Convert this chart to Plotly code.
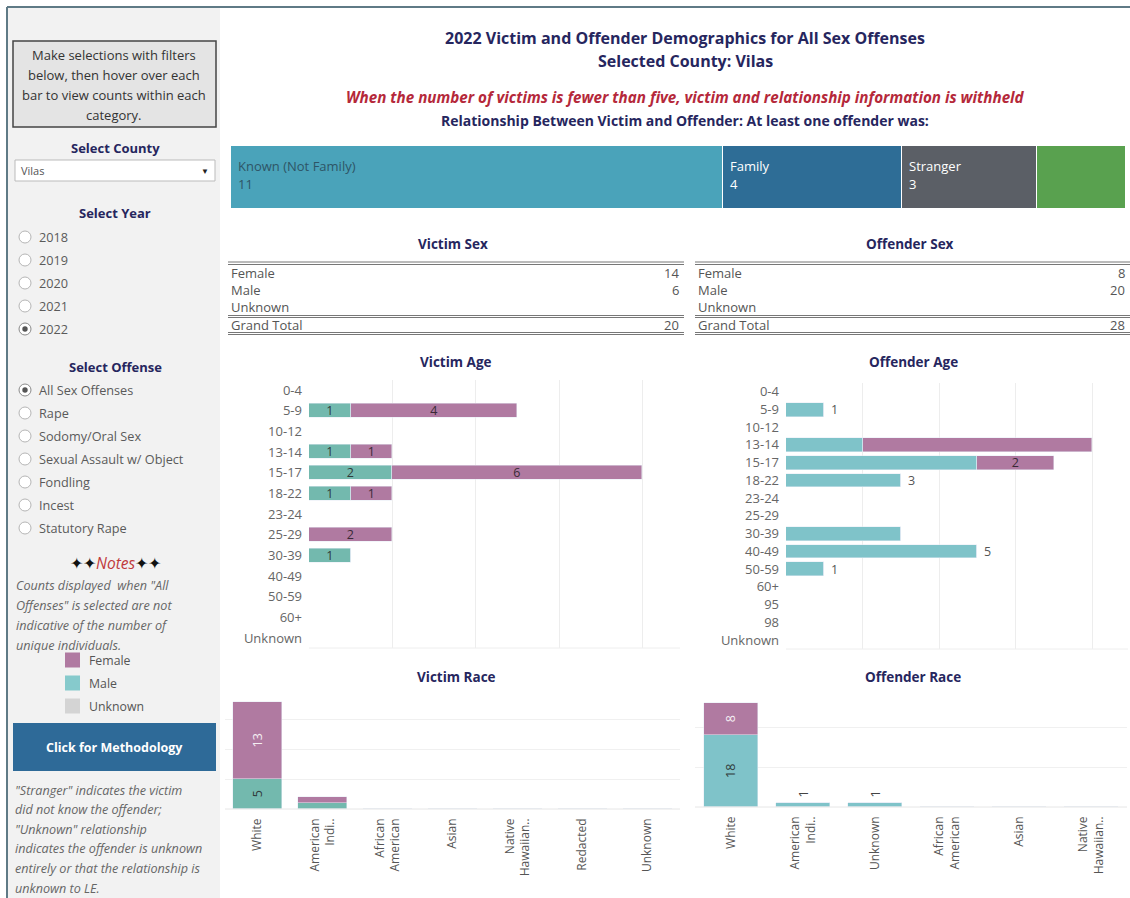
import plotly.graph_objects as go

# ---------------- data ----------------
county = "Vilas"
year = 2022
years = ["2018", "2019", "2020", "2021", "2022"]
offenses = ["All Sex Offenses", "Rape", "Sodomy/Oral Sex", "Sexual Assault w/ Object",
            "Fondling", "Incest", "Statutory Rape"]

relationship_labels = ["Known (Not Family)", "Family", "Stranger", "Unknown"]
relationship_counts = [11, 4, 3, 2]
relationship_label_shown = [True, True, True, False]

sex_rows = ["Female", "Male", "Unknown"]
victim_sex_counts = [14, 6, None]
offender_sex_counts = [8, 20, None]

victim_age_groups = ["0-4", "5-9", "10-12", "13-14", "15-17", "18-22", "23-24", "25-29",
                     "30-39", "40-49", "50-59", "60+", "Unknown"]
victim_age_male = [0, 1, 0, 1, 2, 1, 0, 0, 1, 0, 0, 0, 0]
victim_age_female = [0, 4, 0, 1, 6, 1, 0, 2, 0, 0, 0, 0, 0]

offender_age_groups = ["0-4", "5-9", "10-12", "13-14", "15-17", "18-22", "23-24", "25-29",
                       "30-39", "40-49", "50-59", "60+", "95", "98", "Unknown"]
offender_age_male = [0, 1, 0, 2, 5, 3, 0, 0, 3, 5, 1, 0, 0, 0, 0]
offender_age_female = [0, 0, 0, 6, 2, 0, 0, 0, 0, 0, 0, 0, 0, 0, 0]
offender_age_male_label = [0, 1, 0, 0, 0, 1, 0, 0, 0, 1, 1, 0, 0, 0, 0]
offender_age_female_label = [0, 0, 0, 0, 1, 0, 0, 0, 0, 0, 0, 0, 0, 0, 0]

victim_races = ["White", "American<br>Indi..", "African<br>American", "Asian",
                "Native<br>Hawaiian..", "Redacted", "Unknown"]
victim_race_male = [5, 1, 0, 0, 0, 0, 0]
victim_race_female = [13, 1, 0, 0, 0, 0, 0]
victim_race_label = [1, 0, 0, 0, 0, 0, 0]

offender_races = ["White", "American<br>Indi..", "Unknown", "African<br>American",
                  "Asian", "Native<br>Hawaiian.."]
offender_race_male = [18, 1, 1, 0, 0, 0]
offender_race_female = [8, 0, 0, 0, 0, 0]

# ---------------- styling ----------------
W, H = 1130, 898
FONT = "Open Sans"
NAVY = "#26265E"
GREY_TXT = "#555555"
FEMALE = "#B07AA1"
MALE_V = "#73B9AE"
MALE_O = "#7FC3C9"
REL_COLORS = ["#4AA3BA", "#2E6D96", "#5B5F66", "#59A14F"]
REL_TEXT = ["#2E5566", "#FFFFFF", "#FFFFFF", "#FFFFFF"]


def X(px):
    return px / W


def Y(py):
    return 1 - py / H


fig = go.Figure()
shapes = []
ann = []


def text(x, y, s, size=12, color=GREY_TXT, bold=False, italic=False, xanchor="center",
         family=FONT, **kw):
    if bold:
        s = f"<b>{s}</b>"
    if italic:
        s = f"<i>{s}</i>"
    ann.append(dict(x=X(x), y=Y(y), xref="paper", yref="paper", text=s, showarrow=False,
                    xanchor=xanchor, yanchor="middle",
                    font=dict(size=size, color=color, family=family), **kw))


def hline(x0, x1, y, color="#666", width=1):
    shapes.append(dict(type="line", xref="paper", yref="paper", x0=X(x0), x1=X(x1),
                       y0=Y(y), y1=Y(y), line=dict(color=color, width=width)))


def rect(x0, y0, x1, y1, fill, line_color=None, line_width=0, layer="below"):
    shapes.append(dict(type="rect", xref="paper", yref="paper", x0=X(x0), x1=X(x1),
                       y0=Y(y1), y1=Y(y0), fillcolor=fill, layer=layer,
                       line=dict(color=line_color or fill, width=line_width)))


# ---------------- filter panel ----------------
rect(7, 7, 220, 898, "#F2F2F2")
hline(7, 1130, 7, color="#5F7A86", width=2)
shapes.append(dict(type="line", xref="paper", yref="paper", x0=X(7), x1=X(7), y0=0, y1=Y(7),
                   line=dict(color="#5F7A86", width=2)))

rect(13, 41, 216, 127, "#E4E4E4", line_color="#444", line_width=1.5)
for i, line in enumerate(["Make selections with filters", "below, then hover over each",
                          "bar to view counts within each", "category."]):
    text(114, 55 + i * 20, line, size=13, color="#333")

text(115, 148, "Select County", size=13, color=NAVY, bold=True)
rect(15, 160, 215, 181, "#FFFFFF", line_color="#BBBBBB", line_width=1)
text(19, 170.5, county, size=11, color="#555", xanchor="left")
text(205, 171, "▼", size=8, color="#222")

text(115, 213, "Select Year", size=13, color=NAVY, bold=True)


def radio(cy, label, selected):
    shapes.append(dict(type="circle", xref="paper", yref="paper", x0=X(19), x1=X(31),
                       y0=Y(cy + 6), y1=Y(cy - 6), fillcolor="#FFFFFF",
                       line=dict(color="#B5B5B5" if not selected else "#8A8A8A", width=1)))
    if selected:
        shapes.append(dict(type="circle", xref="paper", yref="paper", x0=X(22.3), x1=X(27.7),
                           y0=Y(cy + 2.7), y1=Y(cy - 2.7), fillcolor="#555",
                           line=dict(color="#555", width=0)))
    text(37, cy, label, size=12.7, color="#5A5A5A", xanchor="left")


for i, yr in enumerate(years):
    radio(237 + i * 23, yr, yr == str(year))

text(115, 367, "Select Offense", size=13, color=NAVY, bold=True)
for i, off in enumerate(offenses):
    radio(390 + i * 23, off, i == 0)

ann.append(dict(x=X(115), y=Y(563), xref="paper", yref="paper", showarrow=False,
                text="<span style='color:#111'>✦✦</span><i>Notes</i><span style='color:#111'>✦✦</span>",
                font=dict(size=15.5, color="#C0393B", family=FONT), xanchor="center",
                yanchor="middle"))
for i, line in enumerate(['Counts displayed  when "All',
                          'Offenses" is selected are not',
                          'indicative of the number of',
                          'unique individuals.']):
    text(14, 585 + i * 20, line, size=12.6, color="#666", italic=True, xanchor="left")

for i, (lab, col) in enumerate([("Female", FEMALE), ("Male", "#86CACC"), ("Unknown", "#D4D4D4")]):
    cy = 660 + i * 23
    rect(65, cy - 7.5, 80, cy + 7.5, col, layer="above")
    text(87, cy, lab, size=12.3, color="#555", xanchor="left")

rect(13, 723, 216, 771, "#2E6A98")
text(114.5, 747, "Click for Methodology", size=12.5, color="#FFFFFF", bold=True)

for i, line in enumerate(['"Stranger" indicates the victim',
                          'did not know the offender;',
                          '"Unknown" relationship',
                          'indicates the offender is unknown',
                          'entirely or that the relationship is',
                          'unknown to LE.']):
    text(13, 790 + i * 19.6, line, size=12.6, color="#666", italic=True, xanchor="left")

# ---------------- headings ----------------
text(685, 38, f"{year} Victim and Offender Demographics for All Sex Offenses", size=16,
     color=NAVY, bold=True)
text(685, 61, f"Selected County: {county}", size=16, color=NAVY, bold=True)
text(685, 97, "When the number of victims is fewer than five, victim and relationship "
              "information is withheld", size=15.2, color="#B5283A", bold=True, italic=True)
text(685, 120, "Relationship Between Victim and Offender: At least one offender was:",
     size=14, color=NAVY, bold=True)

# ---------------- relationship bar ----------------
start = 0
for lab, cnt, col, tcol, shown in zip(relationship_labels, relationship_counts, REL_COLORS,
                                      REL_TEXT, relationship_label_shown):
    fig.add_trace(go.Bar(x=[cnt], y=[0], orientation="h", width=1, xaxis="x", yaxis="y",
                         marker=dict(color=col, line=dict(color="#FFFFFF", width=1)),
                         hoverinfo="skip"))
    if shown:
        for k, (s, py) in enumerate([(lab, 166), (str(cnt), 184)]):
            ann.append(dict(x=start, y=Y(py), xref="x", yref="paper", text=s, showarrow=False,
                            xanchor="left", yanchor="middle", xshift=5,
                            font=dict(size=13, color=tcol, family=FONT)))
    start += cnt

# ---------------- sex tables ----------------
def sex_table(x0, x1, cx, title, counts):
    text(cx, 244, title, size=13.5, color=NAVY, bold=True)
    hline(x0, x1, 262, "#777", 1)
    hline(x0, x1, 264.5, "#777", 1)
    for i, (r, v) in enumerate(zip(sex_rows, counts)):
        text(x0 + 1, 273 + i * 17, r, size=13, color="#555", xanchor="left")
        if v is not None:
            text(x1 - 3, 273 + i * 17, str(v), size=13, color="#555", xanchor="right")
    hline(x0, x1, 315.5, "#777", 1)
    hline(x0, x1, 317.5, "#777", 1)
    text(x0 + 1, 325, "Grand Total", size=13, color="#555", xanchor="left")
    text(x1 - 3, 325, str(sum(v for v in counts if v is not None)), size=13, color="#555",
         xanchor="right")
    hline(x0, x1, 332.5, "#777", 1)
    hline(x0, x1, 334.5, "#777", 1)


sex_table(228, 684, 453, "Victim Sex", victim_sex_counts)
sex_table(695, 1130, 910, "Offender Sex", offender_sex_counts)

# ---------------- age charts ----------------
def lbl(vals, mask=None):
    out = []
    for i, v in enumerate(vals):
        show = v > 0 and (mask is None or mask[i])
        out.append(str(v) if show else "")
    return out


text(456, 362, "Victim Age", size=13.5, color=NAVY, bold=True)
fig.add_trace(go.Bar(y=victim_age_groups, x=victim_age_male, orientation="h", width=0.68,
                     xaxis="x2", yaxis="y2", marker=dict(color=MALE_V),
                     text=lbl(victim_age_male), textposition="inside", textangle=0,
                     insidetextanchor="middle", constraintext="none",
                     textfont=dict(size=12.5, color="#2F3A3A", family=FONT), hoverinfo="skip"))
fig.add_trace(go.Bar(y=victim_age_groups, x=victim_age_female, orientation="h", width=0.68,
                     xaxis="x2", yaxis="y2", marker=dict(color=FEMALE),
                     text=lbl(victim_age_female), textposition="inside", textangle=0,
                     insidetextanchor="middle", constraintext="none",
                     textfont=dict(size=12.5, color="#3A2A36", family=FONT), hoverinfo="skip"))

text(913, 362, "Offender Age", size=13.5, color=NAVY, bold=True)
fig.add_trace(go.Bar(y=offender_age_groups, x=offender_age_male, orientation="h", width=0.78,
                     xaxis="x3", yaxis="y3", marker=dict(color=MALE_O), hoverinfo="skip"))
fig.add_trace(go.Bar(y=offender_age_groups, x=offender_age_female, orientation="h", width=0.78,
                     xaxis="x3", yaxis="y3", marker=dict(color=FEMALE),
                     text=lbl(offender_age_female, offender_age_female_label),
                     textposition="inside", textangle=0, insidetextanchor="middle",
                     constraintext="none",
                     textfont=dict(size=12.5, color="#3A2A36", family=FONT), hoverinfo="skip"))
for g, v, m in zip(offender_age_groups, offender_age_male, offender_age_male_label):
    if m and v > 0:
        ann.append(dict(x=v, y=g, xref="x3", yref="y3", text=str(v), showarrow=False,
                        xanchor="left", yanchor="middle", xshift=5,
                        font=dict(size=12.5, color="#555", family=FONT)))

# ---------------- race charts ----------------
text(456, 677, "Victim Race", size=13.5, color=NAVY, bold=True)
fig.add_trace(go.Bar(x=victim_races, y=victim_race_male, width=0.75, xaxis="x4", yaxis="y4",
                     marker=dict(color=MALE_V), text=lbl(victim_race_male, victim_race_label),
                     textposition="inside", insidetextanchor="middle", textangle=-90,
                     constraintext="none",
                     textfont=dict(size=12.5, color="#2F3A3A", family=FONT), hoverinfo="skip"))
fig.add_trace(go.Bar(x=victim_races, y=victim_race_female, width=0.75, xaxis="x4", yaxis="y4",
                     marker=dict(color=FEMALE), text=lbl(victim_race_female, victim_race_label),
                     textposition="inside", insidetextanchor="middle", textangle=-90,
                     constraintext="none",
                     textfont=dict(size=12.5, color="#F4EEF3", family=FONT), hoverinfo="skip"))

text(913, 677, "Offender Race", size=13.5, color=NAVY, bold=True)
fig.add_trace(go.Bar(x=offender_races, y=offender_race_male, width=0.76, xaxis="x5", yaxis="y5",
                     marker=dict(color=MALE_O),
                     text=[str(v) if (v > 0 and f > 0) else "" for v, f in
                           zip(offender_race_male, offender_race_female)],
                     textposition="inside", insidetextanchor="middle", textangle=-90,
                     constraintext="none",
                     textfont=dict(size=12.5, color="#2F3A3A", family=FONT), hoverinfo="skip"))
fig.add_trace(go.Bar(x=offender_races, y=offender_race_female, width=0.76, xaxis="x5",
                     yaxis="y5", marker=dict(color=FEMALE), text=lbl(offender_race_female),
                     textposition="inside", insidetextanchor="middle", textangle=-90,
                     constraintext="none",
                     textfont=dict(size=12.5, color="#F4EEF3", family=FONT), hoverinfo="skip"))
for r, v, f in zip(offender_races, offender_race_male, offender_race_female):
    if v > 0 and f == 0:
        ann.append(dict(x=r, y=v, xref="x5", yref="y5", text=str(v), showarrow=False,
                        textangle=-90, xanchor="center", yanchor="bottom", yshift=3,
                        font=dict(size=12.5, color="#444", family=FONT)))

# baselines under the charts
hline(309, 680, 648, "#EEEEEE", 1)
hline(786, 1128, 649, "#EEEEEE", 1)
hline(225, 680, 809, "#E6E6E6", 1)
hline(695, 1127, 807, "#E6E6E6", 1)

# ---------------- axes ----------------
hidden = dict(visible=False, fixedrange=True)
age_x = dict(showticklabels=False, showgrid=True, gridcolor="#EDEDED", gridwidth=1,
             zeroline=False, showline=False, ticks="", tickvals=[2, 4, 6, 8])
age_y = dict(type="category", autorange="reversed", showgrid=False, zeroline=False,
             ticks="", tickfont=dict(size=13, color="#666", family=FONT), ticklabelstandoff=6)
race_x = dict(type="category", showgrid=False, zeroline=False, ticks="", tickangle=-90,
              tickfont=dict(size=12, color="#555", family=FONT), ticklabelstandoff=6)
race_y = dict(showticklabels=False, showgrid=True, gridcolor="#F0F0F0", zeroline=False,
              ticks="")

fig.update_layout(
    width=W, height=H, margin=dict(l=0, r=0, t=0, b=0),
    paper_bgcolor="#FFFFFF", plot_bgcolor="rgba(0,0,0,0)",
    showlegend=False, barmode="stack", bargap=0,
    xaxis=dict(domain=[X(231), X(1126)], range=[0, sum(relationship_counts)], **hidden),
    yaxis=dict(domain=[Y(209), Y(146)], range=[-0.5, 0.5], **hidden),
    xaxis2=dict(domain=[X(309), X(680)], range=[0, 8.9], anchor="y2", **age_x),
    yaxis2=dict(domain=[Y(648.4), Y(379.6)], anchor="x2", categoryarray=victim_age_groups,
                **age_y),
    xaxis3=dict(domain=[X(786), X(1128)], range=[0, 8.93], anchor="y3", **age_x),
    yaxis3=dict(domain=[Y(648.9), Y(382.8)], anchor="x3", categoryarray=offender_age_groups,
                **age_y),
    xaxis4=dict(domain=[X(225), X(680)], anchor="y4", categoryarray=victim_races, **race_x),
    yaxis4=dict(domain=[Y(809), Y(697)], range=[0, 18.85], anchor="x4", tickvals=[5, 10, 15],
                **race_y),
    xaxis5=dict(domain=[X(695), X(1127)], anchor="y5", categoryarray=offender_races, **race_x),
    yaxis5=dict(domain=[Y(807), Y(697)], range=[0, 27.5], anchor="x5", tickvals=[10, 20],
                **race_y),
    shapes=shapes, annotations=ann,
    font=dict(family=FONT),
)

fig.write_html("out.html")
